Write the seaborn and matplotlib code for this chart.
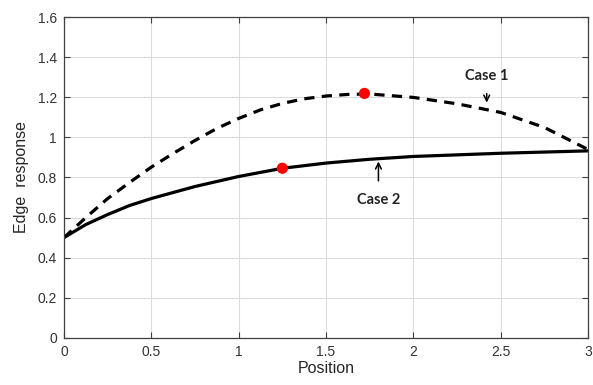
import numpy as np
import pandas as pd
import seaborn as sns
from matplotlib import pyplot as plt

# Values
case1_x = [0, 0.125, 0.25, 0.375, 0.5, 0.625, 0.75, 0.875, 1.0, 1.125, 1.25,
           1.375, 1.5, 1.625, 1.75, 2.0, 2.25, 2.5, 2.75, 3.0]
case1_y = [0.50, 0.60, 0.695, 0.775, 0.852, 0.92, 0.985, 1.045, 1.095, 1.138, 1.17,
           1.193, 1.207, 1.215, 1.217, 1.20, 1.168, 1.125, 1.05, 0.94]
case2_x = [0, 0.125, 0.25, 0.375, 0.5, 0.75, 1.0, 1.25, 1.5, 1.75, 2.0, 2.5, 3.0]
case2_y = [0.50, 0.565, 0.615, 0.66, 0.695, 0.755, 0.805, 0.846, 0.872, 0.891,
           0.905, 0.921, 0.933]
peak_x = [1.72, 1.25]
peak_y = [1.22, 0.846]
x_ticks = [0, 0.5, 1, 1.5, 2, 2.5, 3]
x_tick_labels = ["0", "0.5", "1", "1.5", "2", "2.5", "3"]
y_ticks = [0, 0.2, 0.4, 0.6, 0.8, 1.0, 1.2, 1.4, 1.6]
y_tick_labels = ["0", "0.2", "0.4", "0.6", "0.8", "1", "1.2", "1.4", "1.6"]

sns.set_theme(style="whitegrid")
plt.rcParams['font.family'] = ['Liberation Sans', 'DejaVu Sans']

fig = plt.figure(figsize=(5.93, 3.85), dpi=100)
ax = fig.add_axes([0.108, 0.123, 0.8836, 0.832])

df1 = pd.DataFrame({"x": case1_x, "y": case1_y})
df2 = pd.DataFrame({"x": case2_x, "y": case2_y})
sns.lineplot(data=df1, x="x", y="y", ax=ax, color="black", linewidth=2.3,
             linestyle=(0, (3.2, 2.3)))
sns.lineplot(data=df2, x="x", y="y", ax=ax, color="black", linewidth=2.3)
sns.scatterplot(x=peak_x, y=peak_y, ax=ax, color="#ff0000", s=65,
                edgecolor="none", zorder=5)

# annotations
ax.annotate("Case 1", xy=(2.42, 1.174), xytext=(2.42, 1.305),
            ha="center", va="center", fontsize=10.5, fontweight="bold",
            family=["Lato", "DejaVu Sans"], color="#222222",
            arrowprops=dict(arrowstyle="->", color="black", lw=1.1,
                            shrinkA=5, shrinkB=0))
ax.annotate("Case 2", xy=(1.80, 0.88), xytext=(1.80, 0.69),
            ha="center", va="center", fontsize=10.5, fontweight="bold",
            family=["Lato", "DejaVu Sans"], color="#222222",
            arrowprops=dict(arrowstyle="->", color="black", lw=1.1,
                            shrinkA=6, shrinkB=0))

ax.set_xlim(0, 3)
ax.set_ylim(0, 1.6)
ax.set_xticks(x_ticks)
ax.set_xticklabels(x_tick_labels)
ax.set_yticks(y_ticks)
ax.set_yticklabels(y_tick_labels)
ax.set_xlabel("Position", fontsize=11.5, color="#262626", labelpad=2)
ax.set_ylabel("Edge  response", fontsize=11.5, color="#262626", labelpad=6)

ax.grid(True, color="#dcdcdc", linewidth=0.8)
ax.tick_params(direction="in", length=4, width=0.8, colors="#404040",
               labelsize=10, labelcolor="#333333", top=True, right=True,
               bottom=True, left=True, pad=5)
for side in ax.spines.values():
    side.set_color("#404040")
    side.set_linewidth(0.9)
    side.set_visible(True)

fig.savefig("out.png", dpi=100)
